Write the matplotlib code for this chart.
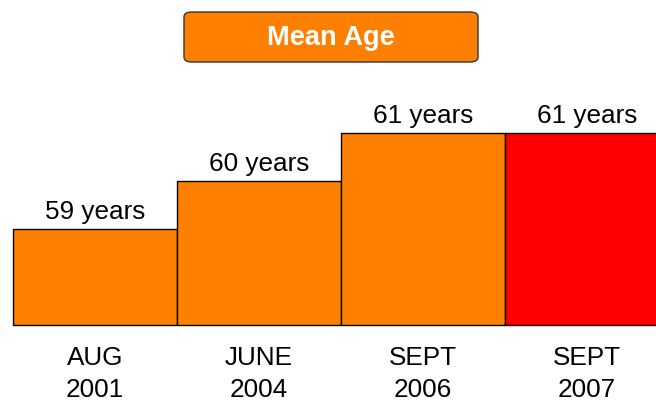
import matplotlib.pyplot as plt
from matplotlib.patches import FancyBboxPatch

periods = ['AUG\n2001', 'JUNE\n2004', 'SEPT\n2006', 'SEPT\n2007']
mean_age = [59, 60, 61, 61]
colors = ['#FF8000', '#FF8000', '#FF8000', '#FF0000']

plt.rcParams['font.family'] = ['Liberation Sans', 'DejaVu Sans']

W, H = 656, 403
fig = plt.figure(figsize=(W / 100, H / 100), dpi=100)
ax = fig.add_axes([13 / W, (H - 325) / H, (W - 13) / W, 325 / H])

x = list(range(len(mean_age)))
base = 57
ax.bar(x, [v - base for v in mean_age], bottom=base, width=1.0,
       color=colors, edgecolor='black', linewidth=1.0, clip_on=False)
ax.set_xlim(-0.5, 3.42)
ax.set_ylim(base, base + 325 / 48)

for xi, v in zip(x, mean_age):
    ax.text(xi, v + 0.1, f'{v} years', ha='center', va='bottom', fontsize=18.8)

ax.set_xticks(x)
ax.set_xticklabels(periods, fontsize=18.8, linespacing=1.42)
ax.tick_params(axis='x', length=0, pad=15)
ax.set_yticks([])
for s in ax.spines.values():
    s.set_visible(False)

# title box
box = FancyBboxPatch((184 / W, (H - 62) / H), 294 / W, 50 / H,
                     boxstyle='round,pad=0,rounding_size=0.012',
                     transform=fig.transFigure, facecolor='#FF8000',
                     edgecolor='#333333', linewidth=1.0)
fig.patches.append(box)
fig.text(331 / W, (H - 38) / H, 'Mean Age', color='white', fontsize=19.6,
         fontweight='bold', ha='center', va='center')

fig.savefig('out.png', dpi=100)
